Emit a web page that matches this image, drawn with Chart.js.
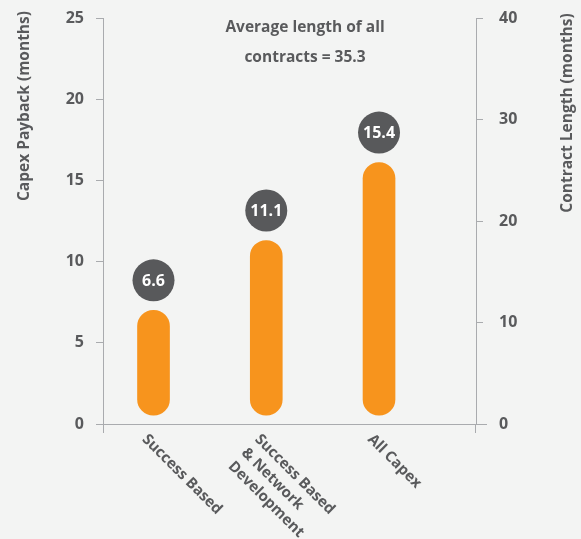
<!DOCTYPE html>
<html>
<head>
<meta charset="utf-8">
<script src="https://cdn.jsdelivr.net/npm/chart.js@4"></script>
<style>
  html, body { margin: 0; padding: 0; background: #f3f4f3; }
  #wrap { width: 581px; height: 539px; }
  canvas { display: block; }
</style>
</head>
<body>
<div id="wrap"><canvas id="c" width="581" height="539"></canvas></div>
<script>
// ---- data ----
const categories = [["Success Based"], ["Success Based", "& Network", "Development"], ["All Capex"]];
const paybackValues = [6.6, 11.1, 15.4];        // values printed in the circles
const barTops = [7.0, 11.3, 16.1];               // visible top of each rounded bar (left axis)
const barBase = 0.55;                            // visible bottom of the rounded bars
const leftTicks = [0, 5, 10, 15, 20, 25];
const rightTicks = [0, 10, 20, 30, 40];
const noteLines = ["Average length of all", "contracts = 35.3"];
const leftTitle = "Capex Payback (months)";
const rightTitle = "Contract Length (months)";

const GRAY = '#595a5c';
const AXIS = '#a9abae';
const ORANGE = '#f7941d';
const DARK = '#58595b';
const FONT = "'Open Sans', sans-serif";

Chart.defaults.font.family = FONT;
Chart.defaults.color = GRAY;

const overlay = {
  id: 'overlay',
  afterDatasetsDraw(chart) {
    const ctx = chart.ctx;
    const meta = chart.getDatasetMeta(0);
    ctx.save();
    meta.data.forEach((bar, i) => {
      const cx = bar.x, cy = bar.y - 30;
      ctx.beginPath();
      ctx.arc(cx, cy, 21, 0, Math.PI * 2);
      ctx.fillStyle = DARK;
      ctx.fill();
      ctx.fillStyle = '#ffffff';
      ctx.font = "700 16px " + FONT;
      ctx.textAlign = 'center';
      ctx.textBaseline = 'middle';
      ctx.fillText(paybackValues[i].toFixed(1), cx, cy + 1);
    });
    ctx.restore();
  },
  afterDraw(chart) {
    const ctx = chart.ctx;
    const area = chart.chartArea;
    const xs = chart.scales.x;
    ctx.save();
    // axis extensions below the baseline
    ctx.strokeStyle = AXIS;
    ctx.lineWidth = 1;
    ctx.beginPath();
    ctx.moveTo(area.left + 0.5, area.bottom); ctx.lineTo(area.left + 0.5, area.bottom + 9);
    ctx.moveTo(area.right - 0.5, area.bottom); ctx.lineTo(area.right - 0.5, area.bottom + 9);
    ctx.moveTo(area.right, area.bottom + 0.5); ctx.lineTo(area.right + 11, area.bottom + 0.5);
    ctx.stroke();

    // note text
    ctx.fillStyle = GRAY;
    ctx.font = "700 15.5px " + FONT;
    ctx.textAlign = 'center';
    ctx.textBaseline = 'middle';
    noteLines.forEach((t, k) => ctx.fillText(t, 305, 28 + k * 30));

    // axis titles
    ctx.font = "700 15.5px " + FONT;
    ctx.save();
    ctx.translate(25, 106);
    ctx.rotate(-Math.PI / 2);
    ctx.fillText(leftTitle, 0, 0);
    ctx.restore();
    ctx.save();
    ctx.translate(568, 113);
    ctx.rotate(-Math.PI / 2);
    ctx.fillText(rightTitle, 0, 0);
    ctx.restore();

    // category labels rotated 45deg
    ctx.font = "700 15px " + FONT;
    ctx.textAlign = 'left';
    ctx.textBaseline = 'middle';
    categories.forEach((lines, i) => {
      const px = xs.getPixelForValue(i);
      ctx.save();
      ctx.translate(px - 9, area.bottom + 13);
      ctx.rotate(Math.PI / 4);
      lines.forEach((ln, k) => ctx.fillText(ln, 0, k * 19));
      ctx.restore();
    });
    ctx.restore();
  }
};

new Chart(document.getElementById('c'), {
  type: 'bar',
  data: {
    datasets: [{
      data: barTops.map((t, i) => ({ x: i, y: [barBase, t] })),
      backgroundColor: ORANGE,
      borderRadius: 16,
      borderSkipped: false,
      barThickness: 32,
      yAxisID: 'y'
    }]
  },
  options: {
    responsive: false,
    animation: false,
    events: [],
    layout: { padding: { top: 18, left: 0, right: 0, bottom: 0 } },
    plugins: { legend: { display: false }, tooltip: { enabled: false } },
    scales: {
      x: {
        type: 'linear',
        offset: false,
        min: -0.448,
        max: 2.86,
        ticks: { display: false },
        grid: { display: true, drawOnChartArea: false, drawTicks: false, color: AXIS, offset: false },
        border: { display: true, color: AXIS, width: 1 },
        afterFit(s) { s.height = 115; }
      },
      y: {
        position: 'left',
        min: 0, max: 25,
        afterBuildTicks(s) { s.ticks = leftTicks.map(v => ({ value: v })); },
        ticks: { color: GRAY, padding: 12, font: { size: 16, weight: '700' } },
        grid: { drawOnChartArea: false, drawTicks: true, tickLength: 7, color: AXIS },
        border: { display: true, color: AXIS, width: 1 },
        afterFit(s) { s.width = 103; s.paddingTop = 8; s.paddingBottom = 8; }
      },
      y2: {
        position: 'right',
        min: 0, max: 40,
        afterBuildTicks(s) { s.ticks = rightTicks.map(v => ({ value: v })); },
        ticks: { color: GRAY, padding: 16, font: { size: 16, weight: '700' } },
        grid: { drawOnChartArea: false, drawTicks: true, tickLength: 7, color: AXIS },
        border: { display: true, color: AXIS, width: 1 },
        afterFit(s) { s.width = 105; s.paddingTop = 8; s.paddingBottom = 8; }
      }
    }
  },
  plugins: [overlay]
});
</script>
</body>
</html>
